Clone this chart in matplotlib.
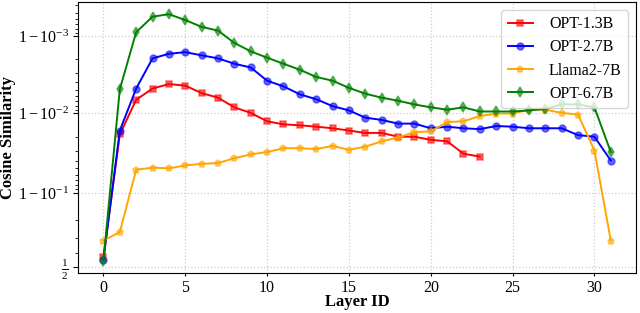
import matplotlib
matplotlib.use('Agg')
import matplotlib.pyplot as plt
import numpy as np

# Cosine similarity per layer
opt13_sim = [0.571, 0.9813, 0.9933, 0.9952, 0.9958, 0.9956, 0.9945, 0.9937, 0.9916, 0.9901,
             0.9873, 0.9861, 0.9857, 0.9851, 0.9844, 0.9833, 0.9821, 0.9821, 0.9800, 0.9800,
             0.9781, 0.9771, 0.9672, 0.9642]
opt27_sim = [0.552, 0.9833, 0.9952, 0.99805, 0.99830, 0.99838, 0.99822, 0.99805, 0.99771, 0.99744,
             0.9962, 0.9955, 0.9943, 0.9934, 0.9919, 0.9908, 0.9886, 0.9878, 0.9864, 0.9864,
             0.9844, 0.9851, 0.9844, 0.9840, 0.9854, 0.9851, 0.9844, 0.9844, 0.9844, 0.9809,
             0.9800, 0.960]
llama7_sim = [0.686, 0.738, 0.948, 0.951, 0.950, 0.954, 0.956, 0.957, 0.9626, 0.9665,
              0.9687, 0.9720, 0.9720, 0.9713, 0.9738, 0.9707, 0.9732, 0.9771, 0.9795, 0.9825,
              0.9829, 0.9870, 0.9873, 0.9891, 0.9899, 0.9899, 0.9910, 0.9910, 0.9901, 0.9896,
              0.9700, 0.686]
opt67_sim = [0.545, 0.9951, 0.99911, 0.99944, 0.99948, 0.99938, 0.99924, 0.99915, 0.99877, 0.99842,
             0.99809, 0.99771, 0.99726, 0.9966, 0.9962, 0.9953, 0.9944, 0.9937, 0.9931, 0.9923,
             0.9916, 0.9910, 0.9916, 0.9905, 0.9905, 0.9905, 0.9908, 0.9912, 0.9923, 0.9923,
             0.9916, 0.9687]

labels = ['OPT-1.3B', 'OPT-2.7B', 'Llama2-7B', 'OPT-6.7B']
colors = ['red', 'blue', 'orange', 'green']
markers = ['s', 'o', 'p', 'd']

plt.rcParams['font.family'] = ['Liberation Serif', 'DejaVu Serif']
plt.rcParams['mathtext.fontset'] = 'stix'

fig = plt.figure(figsize=(6.4, 3.13), dpi=100)
ax = fig.add_axes([0.122, 0.128, 0.872, 0.866])

for sim, lab, c, m in zip([opt13_sim, opt27_sim, llama7_sim, opt67_sim], labels, colors, markers):
    layers = np.arange(len(sim))
    ax.plot(layers, sim, '-', color=c, marker=m, markersize=5, label=lab,
            markerfacecolor=matplotlib.colors.to_rgba(c, 0.6),
            markeredgecolor=matplotlib.colors.to_rgba(c, 0.5), markeredgewidth=1.1, lw=1.4)

ax.set_yscale('logit')
ax.set_xlabel('Layer ID', fontsize=12, fontweight='bold', labelpad=-1)
ax.set_ylabel('Cosine Similarity', fontsize=12, fontweight='bold', labelpad=1)
ax.tick_params(labelsize=11.5, pad=3)
ax.tick_params(axis='x', length=2.5, pad=2.5)
ax.grid(True, linestyle=':', color='#cccccc', lw=0.9)
ax.legend(loc='upper right', fontsize=11.5, handlelength=1.6, handletextpad=1.0,
          labelspacing=0.45, borderaxespad=0.5)

fig.savefig('out.png', dpi=100)
